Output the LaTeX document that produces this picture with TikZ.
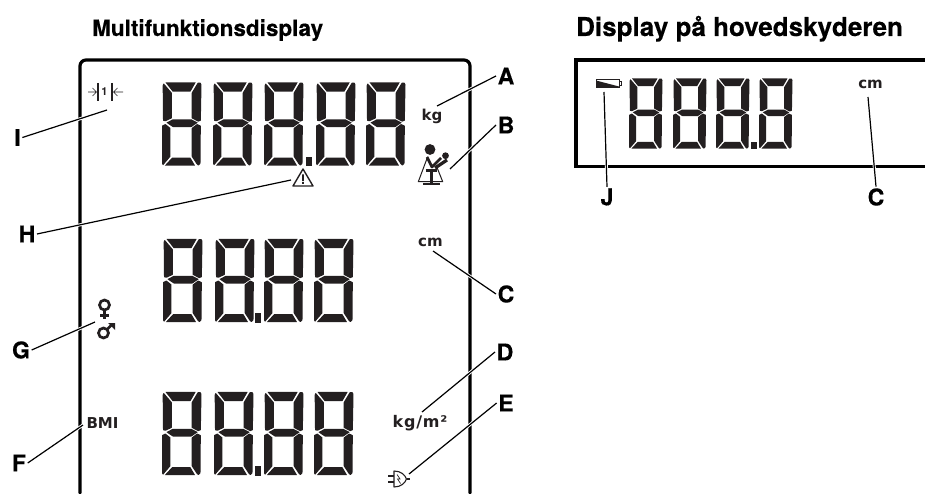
\documentclass[tikz,border=0pt]{standalone}
\usepackage{fontspec}
\setmainfont{TeX Gyre Heros}
\newfontfamily\headfont{TeX Gyre Heros Bold}[FakeBold=0.35]
\newfontfamily\lcdfont{DejaVu Sans Bold}
\newfontfamily\lcdwide{DejaVu Sans Bold}[LetterSpace=5]
\definecolor{lcd}{HTML}{231F20}
\newcommand{\lcddigit}[4]{%
 \begin{scope}[shift={(#1,#2)},xscale=#3/117,yscale=#4/250]
  \fill[lcdseg] (10,1)--(100,1)--(84,29)--(32,29)--cycle;
  \fill[lcdseg] (5,4)--(29,32)--(29,108)--(10,117)--(3,115)--(2,10)--cycle;
  \fill[lcdseg] (106,2)--(114,2)--(117,8)--(115,115)--(107,118)--(88,108)--(88,32)--cycle;
  \fill[lcdseg] (13,121)--(32,111)--(87,111)--(106,121)--(87,134)--(32,134)--cycle;
  \fill[lcdseg] (0,130)--(10,125)--(25,137)--(25,222)--(3,248)--(0,243)--cycle;
  \fill[lcdseg] (104,125)--(115,130)--(114,243)--(108,249)--(103,245)--(88,222)--(88,137)--cycle;
  \fill[lcdseg] (8,249)--(30,225)--(84,225)--(98,249)--cycle;
 \end{scope}}
\tikzset{
 lcdseg/.style={fill=lcd,rounded corners=0.3pt},
 frameline/.style={line width=3.2pt,black},
 leader/.style={line width=1.2pt,black,preaction={draw=white,line width=3pt}},
 heading/.style={font=\fontsize{22.5}{24}\selectfont\headfont,anchor=base west,inner sep=0pt},
 callout/.style={font=\fontsize{23}{24}\selectfont\headfont,inner sep=1.5pt,anchor=center},
 unit/.style={font=\fontsize{15}{16}\selectfont\lcdfont,text=lcd,inner sep=0pt,anchor=center},
}
\begin{document}
\begin{tikzpicture}[x=1pt,y=-1pt]
\useasboundingbox (0,0) rectangle (925,494);
% frames
\draw[frameline,line cap=round,rounded corners=6pt] (80,493)--(80,60)--(470,60)--(470,493);
\draw[frameline] (925,60)--(576,60)--(576,166.7)--(925,166.7);
% digits, row 1
\foreach \x in {162,213,264,316,366} {\lcddigit{\x}{82}{39.5}{84}}
\fill[lcd] (306,157) rectangle (312,166);
% digits, row 2
\foreach \x in {163,215,264,314} {\lcddigit{\x}{238.5}{39.5}{84}}
\fill[lcd] (255,313) rectangle (261,322.5);
% digits, row 3
\foreach \x in {162,214,264,314} {\lcddigit{\x}{391.5}{39.5}{84}}
\fill[lcd] (255,466) rectangle (261,475.5);
% digits, small display
\foreach \x in {629,673,716,759} {\lcddigit{\x}{78}{33.5}{71}}
\fill[lcd] (751,142) rectangle (757,149);
% headings
\node[heading] (h1) at (92,36) {Multifunktionsdisplay};
\node[heading,font=\fontsize{26}{28}\selectfont\headfont] (h2) at (576,36) {Display på hovedskyderen};
% units
\node[unit] (kg) at (432,116) {kg};
\node[unit] (cm1) at (430.5,242) {cm};
\node[unit,font=\fontsize{16}{17}\selectfont\lcdwide] (kgm) at (420,423) {kg/m²};
\node[unit] (bmi) at (102.5,423) {BMI};
\node[unit] (cm2) at (870.5,84) {cm};
\node[font=\fontsize{11}{12}\selectfont\bfseries,text=lcd,inner sep=0pt] (one) at (104.5,92) {1};
% icons: distance
\draw[line width=1.6pt,lcd] (98,83)--(98,101) (112,83)--(112,101);
\draw[line width=.6pt,lcd] (88,92)--(96.5,92) (92.5,88)--(96.5,92)--(92.5,96);
\draw[line width=.6pt,lcd] (123,92)--(113.5,92) (117.5,88)--(113.5,92)--(117.5,96);
% icons: warning
\draw[line width=1.4pt,lcd,line join=round] (303,169)--(293,186)--(313,186)--cycle;
\fill[lcd] (302.2,174.5) rectangle (303.8,181) (302.2,182) rectangle (303.8,183.8);
% icons: mother and child
\fill[lcd] (430,149.5) circle (5.4);
\fill[lcd] (445.5,155.7) circle (3.4);
\draw[line width=1pt,lcd,line join=round] (427.7,156.7)--(418.3,181.7)--(442.7,181.7)--(436,165);
\draw[line width=2.8pt,lcd,line join=round] (427,157)--(432,167)--(441,158);
\draw[line width=3.2pt,lcd] (435,168)--(447,160);
\draw[line width=3pt,lcd] (425.7,170.7)--(437,170.7) (431.7,170.7)--(431.7,184);
\draw[line width=2pt,lcd] (423,184.5)--(440,184.5);
% icons: venus and mars
\draw[line width=2.7pt,lcd] (104.5,305) circle (5);
\draw[line width=2.7pt,lcd] (104.5,310)--(104.5,319) (100,315.5)--(109,315.5);
\draw[line width=2.7pt,lcd] (103.5,333) circle (5);
\draw[line width=2.7pt,lcd] (107,329.5)--(112,324.5);
\fill[lcd] (108,323)--(115,323)--(115,330)--cycle;
% icons: plug
\draw[line width=1.1pt,lcd,line join=round] (394,471)--(394,487) .. controls (401,487) and (405,483) .. (406.5,479) .. controls (405,475) and (401,471) .. (394,471)--cycle;
\draw[line width=1.1pt,lcd] (388,476)--(394,476) (388,482)--(394,482) (406.5,479)--(410,479);
\draw[line width=.7pt,lcd] (397,474.5)--(400,479)--(397.5,479)--(400.5,483.5);
% icons: battery
\draw[line width=.4pt,lcd] (596,79.3) rectangle (619,87);
\fill[lcd] (596,80.5)--(619,86.5)--(619,87)--(596,87)--cycle;
\draw[line width=.4pt,lcd] (619,81) rectangle (621,85);
% connector ends
\coordinate (tA) at (437,106);
\coordinate (tB) at (450,169);
\coordinate (tC) at (433,251);
\coordinate (tD) at (422,412);
\coordinate (tE) at (409,474);
\coordinate (tF) at (83,425);
\coordinate (tG) at (95,322);
\coordinate (tH) at (291,180);
\coordinate (tI) at (107,110);
\coordinate (tJ) at (604,92);
\coordinate (tK) at (868,97);
% callouts
\node[callout] (A) at (506,76) {A};
\node[callout] (B) at (506,125) {B};
\node[callout] (C) at (506,294) {C};
\node[callout] (D) at (505,352) {D};
\node[callout] (E) at (506,403) {E};
\node[callout] (F) at (19,463) {F};
\node[callout] (G) at (21,350) {G};
\node[callout] (H) at (27,234) {H};
\node[callout] (I) at (17.5,137.5) {I};
\node[callout] (J) at (607,197) {J};
\node[callout] (C2) at (876,197) {C};
% connectors
\draw[leader] (A.west)--(tA);
\draw[leader] (B.west)--(tB);
\draw[leader] (C.west)--(tC);
\draw[leader] (D.west)--(tD);
\draw[leader] (E.west)--(tE);
\draw[leader] (F.east)--(tF);
\draw[leader] (G.east)--(tG);
\draw[leader] (H.east)--(tH);
\draw[leader] (I.east)--(tI);
\draw[leader] (J.north)--(tJ);
\draw[leader] (C2.north)--(tK);
\end{tikzpicture}
\end{document}
